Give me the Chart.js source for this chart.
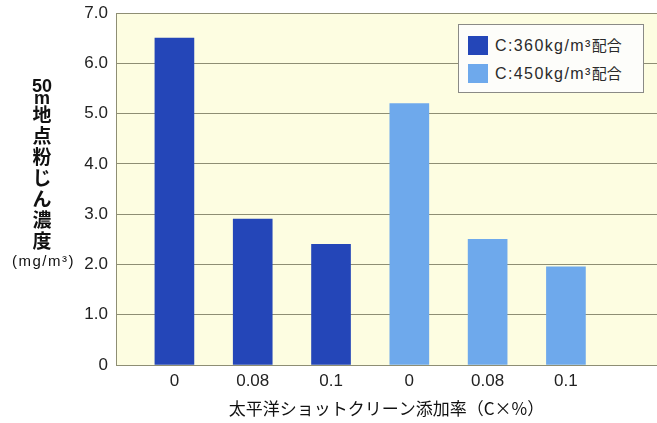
<!DOCTYPE html>
<html>
<head>
<meta charset="utf-8">
<script src="https://cdn.jsdelivr.net/npm/chart.js@4.4.0/dist/chart.umd.min.js"></script>
<style>
body { margin: 0; background: #fff; }
#wrap { position: relative; width: 657px; height: 423px; }
#ytitle { position: absolute; left: 12px; top: 79px; width: 60px; text-align: center; color: #111; }
#ytitle div { white-space: nowrap; }
.lat { font-family: "Liberation Sans", Arial, sans-serif; font-weight: bold; font-size: 18px; }
.cjk { font-family: "Noto Sans CJK JP", sans-serif; font-weight: bold; font-size: 19px; line-height: 21px; }
.unit { font-family: "Liberation Sans", Arial, sans-serif; font-size: 15px; letter-spacing: 1.5px; line-height: 21px; }
#legend { position: absolute; left: 458px; top: 24px; width: 184px; height: 67px; border: 1px solid #8a8a86; background: #fdfdfa; }
#legend .item { position: absolute; left: 9px; height: 20px; }
#legend .sw { position: absolute; left: 0; top: 0; width: 20px; height: 19px; }
#legend .tx { position: absolute; left: 27px; top: -1px; line-height: 20px; white-space: nowrap; color: #2a2a2a; font-family: "Liberation Sans", Arial, sans-serif; font-size: 16px; letter-spacing: 1.4px; }
#legend .tx .j { font-family: "Noto Sans CJK JP", sans-serif; font-size: 15px; letter-spacing: 0; }
</style>
</head>
<body>
<div id="wrap">
  <canvas id="barChart" width="657" height="423"></canvas>
  <div id="ytitle">
    <div class="lat" style="line-height:14px">50</div>
    <div class="lat" style="line-height:10px">m</div>
    <div class="cjk">地</div>
    <div class="cjk">点</div>
    <div class="cjk">粉</div>
    <div class="cjk">じ</div>
    <div class="cjk">ん</div>
    <div class="cjk">濃</div>
    <div class="cjk">度</div>
    <div class="unit">(mg/m³)</div>
  </div>
  <div id="legend"></div>
</div>
<script>
// ラベルと値
var categories = ["0", "0.08", "0.1", "0", "0.08", "0.1"];
var seriesNames = ["C:360kg/m³", "C:450kg/m³"];
var seriesSuffix = "配合";
var series360 = [6.5, 2.9, 2.4];
var series450 = [5.2, 2.5, 1.95];
var yTicks = [0, 1, 2, 3, 4, 5, 6, 7];
var xTitle = "太平洋ショットクリーン添加率（C×%）";

var colors = ["#2446b8", "#6ea9ec"];
var gridColor = "#8e8e74";

// legend (html)
var legendBox = document.getElementById("legend");
seriesNames.forEach(function (name, i) {
    var item = document.createElement("div");
    item.className = "item";
    item.style.top = (11 + i * 28) + "px";
    item.innerHTML = '<div class="sw" style="background:' + colors[i] + '"></div>' +
        '<div class="tx">' + name + '<span class="j">' + seriesSuffix + '</span></div>';
    legendBox.appendChild(item);
});

var plotBg = {
    id: "plotBg",
    beforeDraw: function (chart) {
        var a = chart.chartArea;
        var ctx = chart.ctx;
        ctx.save();
        ctx.fillStyle = "#fdfde1";
        ctx.fillRect(a.left, a.top, a.right - a.left, a.bottom - a.top);
        ctx.restore();
    }
};

var tickFont = { family: "'Liberation Sans', Arial, sans-serif", size: 17 };

var ctx = document.getElementById("barChart").getContext("2d");
var myBarChart = new Chart(ctx, {
    type: "bar",
    data: {
        datasets: [{
            label: seriesNames[0] + seriesSuffix,
            data: series360.map(function (v, i) { return { x: i, y: v }; }),
            backgroundColor: colors[0],
            grouped: false,
            barThickness: 39
        }, {
            label: seriesNames[1] + seriesSuffix,
            data: series450.map(function (v, i) { return { x: i + series360.length, y: v }; }),
            backgroundColor: colors[1],
            grouped: false,
            barThickness: 39
        }]
    },
    options: {
        responsive: false,
        animation: false,
        layout: { padding: { top: 13, right: 0, bottom: 0, left: 0 } },
        plugins: {
            legend: { display: false },
            tooltip: { enabled: false }
        },
        scales: {
            x: {
                type: "linear",
                offset: false,
                min: -0.746,
                max: 6.163,
                afterBuildTicks: function (s) {
                    s.ticks = categories.map(function (c, i) { return { value: i }; });
                },
                afterFit: function (s) { s.height = 58; },
                grid: { display: false },
                border: { display: true, color: gridColor, width: 1 },
                ticks: {
                    color: "#222",
                    font: tickFont,
                    padding: -2,
                    maxRotation: 0,
                    autoSkip: false,
                    callback: function (v) { return categories[v]; }
                },
                title: {
                    display: true,
                    text: xTitle,
                    color: "#111",
                    font: { family: "'Noto Sans CJK JP', sans-serif", size: 17 },
                    padding: { top: 2, bottom: 4 }
                }
            },
            y: {
                min: 0,
                max: 7,
                afterBuildTicks: function (s) {
                    s.ticks = yTicks.map(function (v) { return { value: v }; });
                },
                afterFit: function (s) {
                    s.width = 116;
                    s.paddingTop = 0;
                    s.paddingBottom = 0;
                },
                grid: { color: gridColor, lineWidth: 1, drawTicks: false },
                border: { display: true, color: gridColor, width: 1 },
                ticks: {
                    color: "#222",
                    font: tickFont,
                    padding: 8,
                    callback: function (v) { return v === 0 ? "0" : v.toFixed(1); }
                }
            }
        }
    },
    plugins: [plotBg]
});
</script>
</body>
</html>
